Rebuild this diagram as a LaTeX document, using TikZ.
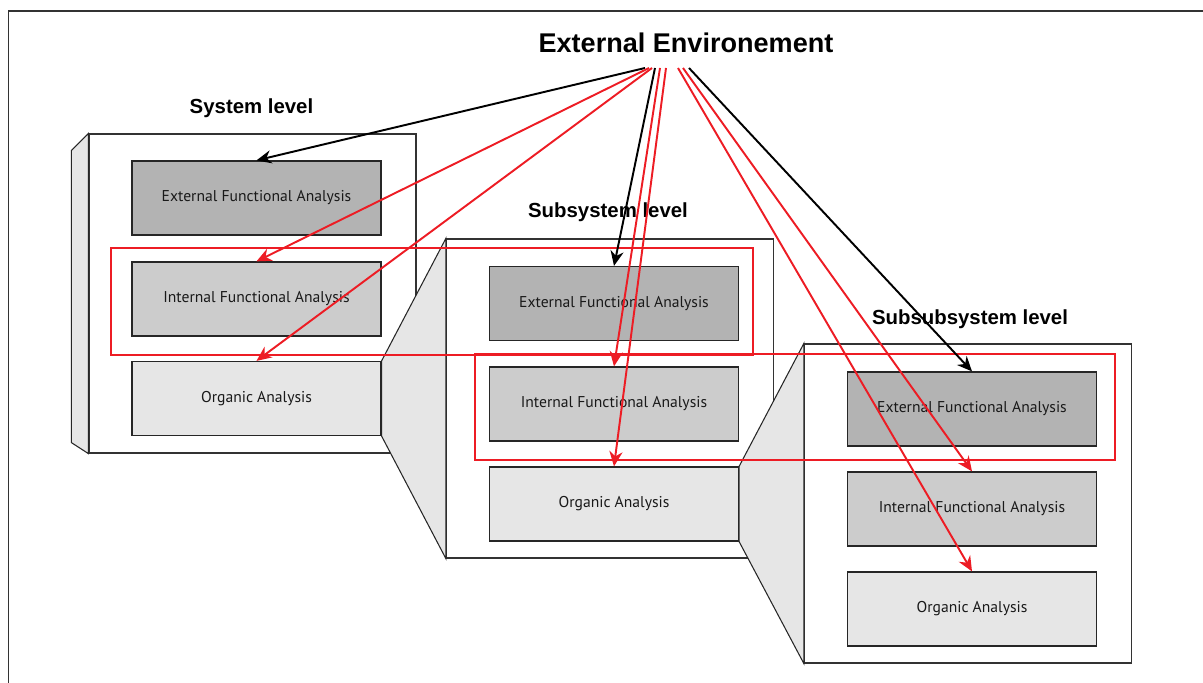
\documentclass[tikz,border=0pt]{standalone}
\usepackage{fontspec}
\setmainfont{PT Sans}
\newfontfamily\headfont{Liberation Sans}
\usepackage{xcolor}
\usepackage{tikz}
\usetikzlibrary{arrows.meta, positioning, calc}
\definecolor{efagray}{HTML}{B3B3B3}
\definecolor{ifagray}{HTML}{CCCCCC}
\definecolor{orggray}{HTML}{E6E6E6}
\definecolor{redline}{HTML}{ED1C24}
\tikzset{
  panel/.style={rectangle, draw=black!80, fill=white, minimum width=6.54cm,
                minimum height=6.38cm, line width=0.7pt},
  anabox/.style={rectangle, draw=black!85, minimum width=4.98cm,
                 minimum height=1.48cm, text=black!90, line width=0.7pt,
                 font=\fontsize{8.9}{10}\selectfont},
  side/.style={draw=black!85, fill=orggray, line width=0.6pt},
  redframe/.style={draw=redline, line width=1.2pt},
}

\begin{document}
\begin{tikzpicture}[
  head/.style={font=\headfont\bfseries\fontsize{11.6}{13}\selectfont, inner sep=0pt},
  line/.style={draw=black, -{Stealth[length=8.5pt,width=7.5pt]}, line width=1.1pt},
  rline/.style={line, draw=redline, fill=redline}
]
  \useasboundingbox (0,0) rectangle (24.06,-13.66);
  \draw[black!80, line width=0.7pt] (0.17,-13.66) -- (0.17,-0.22) -- (24.06,-0.22);

  \node[head, font=\headfont\bfseries\fontsize{15.4}{17}\selectfont] (env) at (13.72,-0.85) {External Environement};
  \node[head] (sysL) at (5.03,-2.16) {System level};
  \node[head] (subL) at (12.16,-4.24) {Subsystem level};
  \node[head] (ssubL) at (19.4,-6.38) {Subsubsystem level};

  % level panels
  \node[panel] (sysP) at (5.05,-5.87) {};
  \node[panel] (subP) at (12.2,-7.97) {};
  \node[panel] (ssubP) at (19.36,-10.07) {};
  \draw[side] (sysP.north west) -- ++(-0.34,-0.34)
    -- ([xshift=-0.34cm,yshift=0.22cm]sysP.south west) -- (sysP.south west) -- cycle;

  \node[anabox, fill=efagray] (sysE) at (5.13,-3.96) {External Functional Analysis};
  \node[anabox, fill=ifagray] (sysI) at (5.13,-5.98) {Internal Functional Analysis};
  \node[anabox, fill=orggray] (sysO) at (5.13,-7.97) {Organic Analysis};

  \node[anabox, fill=efagray] (subE) at (12.28,-6.07) {External Functional Analysis};
  \node[anabox, fill=ifagray] (subI) at (12.28,-8.08) {Internal Functional Analysis};
  \node[anabox, fill=orggray] (subO) at (12.28,-10.08) {Organic Analysis};

  \node[anabox, fill=efagray] (ssubE) at (19.44,-8.18) {External Functional Analysis};
  \node[anabox, fill=ifagray] (ssubI) at (19.44,-10.18) {Internal Functional Analysis};
  \node[anabox, fill=orggray] (ssubO) at (19.44,-12.18) {Organic Analysis};

  % zoom funnels
  \draw[side] (sysO.north east) -- (subP.north west) -- (subP.south west) -- (sysO.south east) -- cycle;
  \draw[side] (subO.north east) -- (ssubP.north west) -- (ssubP.south west) -- (subO.south east) -- cycle;

  \draw[redframe] ([xshift=-0.4cm,yshift=0.26cm]sysI.north west) rectangle ([xshift=0.28cm,yshift=-0.28cm]subE.south east);
  \draw[redframe] ([xshift=-0.28cm,yshift=0.24cm]subI.north west) rectangle ([xshift=0.36cm,yshift=-0.26cm]ssubE.south east);

  \coordinate (src) at (13.34,-1.36);
  \draw[line] ([xshift=-0.44cm]src) -- (sysE.north);
  \draw[rline] ([xshift=-0.36cm]src) -- (sysI.north);
  \draw[rline] ([xshift=-0.30cm]src) -- (sysO.north);
  \draw[line] ([xshift=-0.24cm]src) -- (subE.north);
  \draw[rline] ([xshift=-0.14cm]src) -- (subI.north);
  \draw[rline] ([xshift=-0.02cm]src) -- (subO.north);
  \draw[rline] ([xshift=0.22cm]src) -- (ssubO.north);
  \draw[rline] ([xshift=0.32cm]src) -- (ssubI.north);
  \draw[line] ([xshift=0.44cm]src) -- (ssubE.north);
\end{tikzpicture}
\end{document}
